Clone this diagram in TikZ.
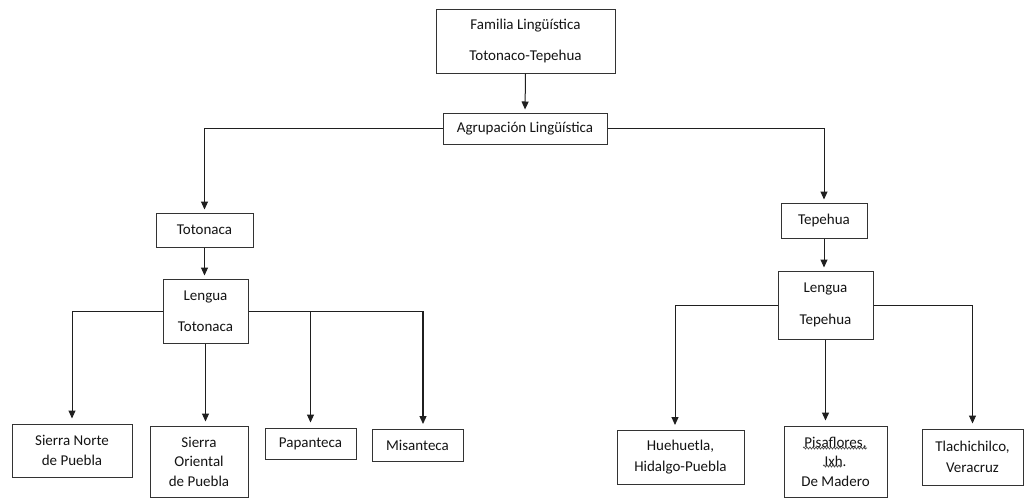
\documentclass[tikz,border=0pt]{standalone}
\usepackage{fontspec}
\setmainfont{Carlito}
\usetikzlibrary{arrows.meta,decorations.pathmorphing}
\begin{document}
\begin{tikzpicture}[x=1pt,y=-1pt,
  box/.style={draw=black!80, line width=1pt, fill=white, inner sep=0pt, align=center,
    text=black!92, font=\fontsize{15}{19.5}\selectfont},
  link/.style={draw=black!88, line width=1pt},
  arr/.style={link, -{Triangle[width=7pt,length=8pt]}, shorten >=3pt},
  squiggle/.style={draw=black!70, line width=0.7pt, decorate,
    decoration={snake, amplitude=1pt, segment length=3pt}}
]
\useasboundingbox[fill=white] (0,0) rectangle (1033,501);

% top of the tree
\node[box, minimum width=179pt, minimum height=64pt] (fam) at (525.5,41) {Familia Lingüística\\[12pt]Totonaco-Tepehua};
\node[box, minimum width=164pt, minimum height=31pt] (agr) at (525,128.5) {Agrupación Lingüística};

% Totonaca branch
\node[box, minimum width=97pt, minimum height=34pt] (toto) at (204.5,230) {Totonaca};
\node[box, minimum width=85pt, minimum height=64pt] (ltoto) at (205.5,311) {Lengua\\[12pt]Totonaca};
\node[box, minimum width=120pt, minimum height=53pt] (sn) at (72,450.5) {Sierra Norte\\de Puebla};
\node[box, minimum width=98pt, minimum height=71pt] (so) at (199,461.5) {Sierra\\Oriental\\de Puebla};
\node[box, minimum width=91pt, minimum height=31pt] (pap) at (310.5,443.5) {Papanteca};
\node[box, minimum width=91pt, minimum height=32pt] (mis) at (417.5,445) {Misanteca};

% Tepehua branch
\node[box, minimum width=86pt, minimum height=35pt] (tepe) at (824,220.5) {Tepehua};
\node[box, minimum width=95pt, minimum height=68pt] (ltepe) at (825.5,305) {Lengua\\[12pt]Tepehua};
\node[box, minimum width=127pt, minimum height=54pt] (hue) at (680.5,457) {Huehuetla,\\[1.5pt]Hidalgo-Puebla};
\node[box, minimum width=103pt, minimum height=71pt] (pis) at (835.5,461.5) {Pisaflores,\\Ixh.\\De Madero};
\node[box, minimum width=101pt, minimum height=56pt] (tla) at (972.5,457) {Tlachichilco,\\[1pt]Veracruz};

% drop points of the connectors that do not hit a box centre
\coordinate (misin) at (423,429);
\coordinate (huein) at (675,430);

% connectors
\draw[arr] (fam.south) -- (agr.north);
\draw[arr] (agr.west) -| (toto.north);
\draw[arr] (agr.east) -| (tepe.north);
\draw[arr] (toto.south) -- (toto.south |- ltoto.north);

\draw[arr, shorten >=5pt] (ltoto.west) -| (sn.north);
\draw[arr, shorten >=4pt] (ltoto.south) -- (ltoto.south |- so.north);
\draw[link] (ltoto.east) -- (ltoto.east -| misin);
\draw[arr, shorten >=5pt] (ltoto.east -| pap.north) -- (pap.north);
\draw[arr, shorten >=5pt, line width=1.3pt] (ltoto.east -| misin) -- (misin);

\draw[arr] (tepe.south) -- (tepe.south |- ltepe.north);
\draw[arr, shorten >=5pt] (ltepe.west) -| (huein);
\draw[arr, shorten >=5pt, line width=1.3pt] (ltepe.south) -- (ltepe.south |- pis.north);
\draw[arr, shorten >=5pt] (ltepe.east) -| (tla.north);

% spell-check underlines
\draw[squiggle] ([shift={(-32.5,-13.5)}]pis.center) -- ([shift={(31.5,-13.5)}]pis.center);
\draw[squiggle] ([shift={(-12.5,4.5)}]pis.center) -- ([shift={(6.5,4.5)}]pis.center);
\end{tikzpicture}
\end{document}
